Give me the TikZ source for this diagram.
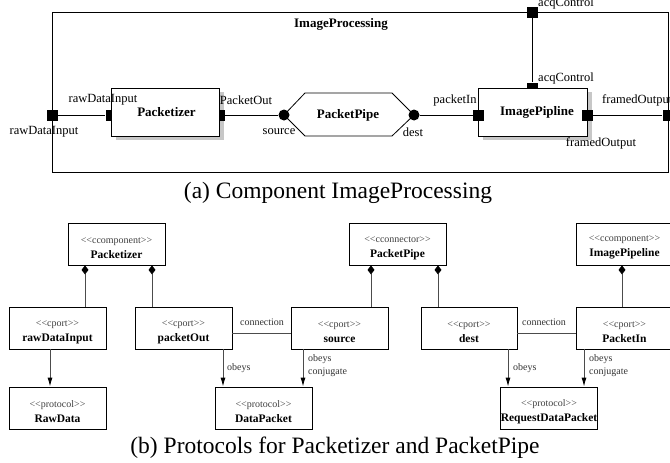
\documentclass[tikz,border=0pt]{standalone}
\usepackage{fontspec}
\setmainfont{Liberation Serif}
\usetikzlibrary{arrows.meta,calc}
\newcommand\sttype[1]{\rule{0pt}{13.5pt}{\color{black!75}<\kern0pt<#1>\kern0pt>}}
\newcommand\clname[1]{{\fontsize{11.5}{15}\selectfont\bfseries #1}}
\begin{document}
\begin{tikzpicture}[x=1pt,y=-1pt,
  lbl/.style={font=\fontsize{12.5}{14}\selectfont, inner sep=0},
  small/.style={font=\fontsize{10}{12}\selectfont, inner sep=0, text=black!80},
  bold/.style={font=\fontsize{13}{15}\selectfont\bfseries, inner sep=0},
  caption/.style={font=\fontsize{23.5}{26}\selectfont, inner sep=0},
  port/.style={fill=black, minimum size=11pt, inner sep=0, draw=none},
  joint/.style={circle, fill=black, minimum size=11pt, inner sep=0},
  compbox/.style={draw=black, fill=white, line width=0.8pt, minimum height=48pt, inner sep=0, font=\fontsize{13}{15}\selectfont\bfseries},
  shadowfill/.style={fill=black!22},
  wire/.style={line width=0.8pt},
  cls/.style={draw=black, line width=0.8pt, minimum width=97pt, minimum height=42pt, align=center, inner sep=0, font=\fontsize{10}{15}\selectfont},
  gline/.style={draw=black!70, line width=0.9pt},
  compo/.style={gline, -{Diamond[width=7pt,length=9pt,fill=black,black]}},
  arr/.style={gline, -{Latex[length=9pt,width=5pt,black]}}
]
\useasboundingbox (0,0) rectangle (670,463);

% ---------- (a) ----------
\node[draw, line width=0.8pt, minimum width=616pt, minimum height=160pt, inner sep=0] (outer) at (360,92) {};
\node[bold] (title) at (341,24) {ImageProcessing};

% shadows
\fill[shadowfill] (116,92) rectangle (224,140);
\fill[shadowfill] (483,92) rectangle (592,140);

% ports hidden partly under boxes
\node[port] (pzIn) at (111,115) {};
\node[port] (pzOut) at (219,115) {};
\node[port] (ipAcq) at (532,88) {};

\node[compbox, minimum width=108pt] (packetizer) at (165,112) {\hspace*{3pt}Packetizer};
\node[compbox, minimum width=109pt] (imagepipe) at (532.5,112) {\hspace*{9pt}ImagePipline};

\node[port] (ipIn) at (478.5,115) {};
\node[port] (ipOut) at (587,115) {};

\node[port] (rawOut) at (52,115) {};
\node[port] (acqOut) at (532,12) {};
\node[port] (framedOut) at (668,115) {};

% hexagon connector
\coordinate (srcC) at (284,115);
\coordinate (dstC) at (414,115);
\draw[wire, fill=white] (srcC) -- (305,93) -- (392,93) -- (dstC) -- (392,136) -- (305,136) -- cycle;
\node[bold] (pipeTxt) at (348,115) {PacketPipe};
\node[joint] (src) at (srcC) {};
\node[joint] (dst) at (dstC) {};

% wires
\draw[wire] (rawOut) -- (pzIn);
\draw[wire] (pzOut) -- (src);
\draw[wire] (dst) -- (ipIn);
\draw[wire] (ipOut) -- (framedOut);
\draw[wire] (ipAcq) -- (acqOut);

% labels
\node[lbl] (l1) at (44,132) {rawDataInput};
\node[lbl] (l2) at (103,100) {rawDataInput};
\node[lbl] (l3) at (246,100) {PacketOut};
\node[lbl] (l4) at (279,132) {source};
\node[lbl] (l5) at (413,132) {dest};
\node[lbl] (l6) at (455,100) {packetIn};
\node[lbl] (l7) at (566,78) {acqControl};
\node[lbl] (l8) at (566,3) {acqControl};
\node[lbl, anchor=west] (l9) at (602,100) {framedOutput};
\node[lbl] (l10) at (601,143) {framedOutput};

\node[caption] (capA) at (338,193) {(a) Component ImageProcessing};

% ---------- (b) ----------
\node[cls] (cPacketizer) at (116.5,244) {\sttype{ccomponent}\\\clname{Packetizer}};
\node[cls] (cPacketPipe) at (397.5,244) {\sttype{cconnector}\\\clname{PacketPipe}};
\node[cls] (cImagePipeline) at (624.5,244) {\sttype{ccomponent}\\\clname{ImagePipeline}};

\node[cls] (pRawDataInput) at (57.5,328) {\sttype{cport}\\\clname{rawDataInput}};
\node[cls] (pPacketOut) at (183.5,328) {\sttype{cport}\\\clname{packetOut}};
\node[cls] (pSource) at (339.5,328) {\sttype{cport}\\\clname{source}};
\node[cls, minimum width=96pt] (pDest) at (469,328) {\sttype{cport}\\\clname{dest}};
\node[cls] (pPacketIn) at (624.5,328) {\sttype{cport}\\\clname{PacketIn}};

\node[cls] (rRawData) at (57.5,408) {\sttype{protocol}\\\clname{RawData}};
\node[cls] (rDataPacket) at (263.5,408) {\sttype{protocol}\\\clname{DataPacket}};
\node[cls, minimum width=96pt] (rRequest) at (549,408) {\sttype{protocol}\\\clname{RequestDataPacket}};

% x positions
\coordinate (x50) at (50,0);
\coordinate (x85) at (85,0);
\coordinate (x152) at (152,0);
\coordinate (x371) at (371,0);
\coordinate (x438) at (438,0);
\coordinate (x622) at (622,0);
\coordinate (x223) at (223,0);
\coordinate (x303) at (303,0);
\coordinate (x508) at (508,0);
\coordinate (x584) at (584,0);

% compositions
\draw[compo] (pRawDataInput.north -| x85) -- (cPacketizer.south -| x85);
\draw[compo] (pPacketOut.north -| x152) -- (cPacketizer.south -| x152);
\draw[compo] (pSource.north -| x371) -- (cPacketPipe.south -| x371);
\draw[compo] (pDest.north -| x438) -- (cPacketPipe.south -| x438);
\draw[compo] (pPacketIn.north -| x622) -- (cImagePipeline.south -| x622);

% connections
\draw[gline] ($(pPacketOut.east)+(0,5)$) -- ($(pSource.west)+(0,5)$);
\draw[gline] ($(pDest.east)+(0,5)$) -- ($(pPacketIn.west)+(0,5)$);
\node[small] (cn1) at (262,322) {connection};
\node[small] (cn2) at (544,322) {connection};

% obeys arrows
\draw[arr] (pRawDataInput.south -| x50) -- (rRawData.north -| x50);
\draw[arr] (pPacketOut.south -| x223) -- (rDataPacket.north -| x223);
\draw[arr] (pSource.south -| x303) -- (rDataPacket.north -| x303);
\draw[arr] (pDest.south -| x508) -- (rRequest.north -| x508);
\draw[arr] (pPacketIn.south -| x584) -- (rRequest.north -| x584);

\node[small, anchor=west] (o1) at (227,368) {obeys};
\node[small, anchor=west] (o2) at (308,359) {obeys};
\node[small, anchor=west] (o3) at (308,372) {conjugate};
\node[small, anchor=west] (o4) at (513,368) {obeys};
\node[small, anchor=west] (o5) at (589,359) {obeys};
\node[small, anchor=west] (o6) at (589,372) {conjugate};

\node[caption] (capB) at (335,448) {(b) Protocols for Packetizer and PacketPipe};
\end{tikzpicture}
\end{document}
